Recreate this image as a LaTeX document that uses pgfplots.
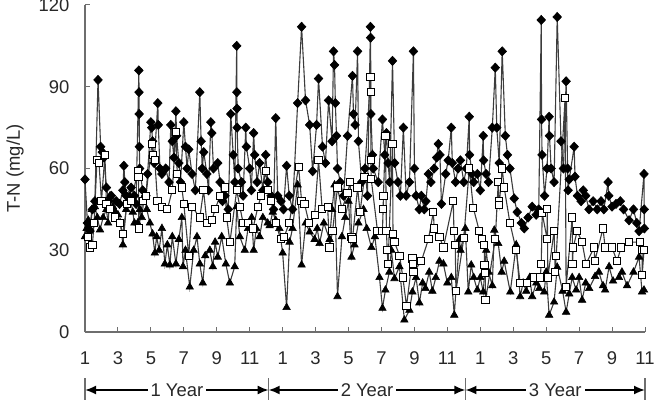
\documentclass[border=0pt]{standalone}
\usepackage{fontspec}
\setmainfont{Liberation Sans}
\usepackage{pgfplots}
\usepackage{pgfplotstable}
\pgfplotsset{compat=1.18}
\usetikzlibrary{arrows.meta}
\definecolor{axgray}{RGB}{110,110,110}
\definecolor{lngray}{RGB}{60,60,60}
\definecolor{txt}{RGB}{40,40,40}

\pgfplotstableread{
x y
0 56
0.15 40
0.3 37
0.45 45
0.6 48
0.79 92.5
0.95 68
1.05 66
1.15 64
1.3 53
1.45 48
1.6 50
1.9 48
2.1 47
2.3 52
2.36 61
2.42 55
2.5 50
2.8 53
3.0 50
3.1 47
3.27 96
3.28 88
3.29 80
3.3 68
3.32 60
3.5 52
3.7 50
3.8 58
4.0 77
4.05 75
4.1 70
4.2 62
4.42 84
4.45 76
4.55 60
4.67 58
4.9 60
5.1 55
5.21 76
5.3 70
5.4 64
5.52 81
5.56 72
5.7 62
5.8 55
6.0 77
6.1 68
6.2 60
6.3 67
6.5 58
6.7 52
6.97 88
7.05 70
7.12 60
7.21 66
7.4 58
7.5 52
7.64 77
7.7 73
7.8 60
8.06 62
8.2 55
8.35 48
8.5 50
8.7 45
8.85 80
9.0 65
9.1 55
9.21 105
9.22 88
9.23 82
9.24 75
9.3 60
9.5 55
9.6 50
9.76 75
9.8 68
10.0 60
10.1 52
10.24 73
10.3 65
10.45 55
10.6 62
10.8 52
10.97 65
11.1 55
11.3 50
11.45 45
11.58 78.5
11.7 50
11.9 48
12.05 45
12.24 61
12.4 50
12.6 45
12.91 84
13.15 112
13.39 85
13.64 76
13.82 59
14.06 76
14.18 93
14.42 68
14.6 62
14.79 85
15.0 70
15.09 103
15.15 98
15.2 84
15.27 72
15.33 60
15.5 55
15.7 50
15.94 72
16.24 94
16.3 80
16.4 76
16.55 103
16.6 70
16.8 55
17.0 60
17.15 50
17.33 112
17.34 108
17.36 80
17.45 65
17.5 60
17.8 55
18.06 78
18.2 65
18.3 73
18.4 62
18.5 55
18.67 99.5
18.8 62
19.0 55
19.15 50
19.33 75
19.5 50
19.7 55
19.94 103
20.0 60
20.1 50
20.3 45
20.42 50
20.6 45
20.7 48
20.85 58
21.0 55
21.2 60
21.35 64
21.45 69
21.55 65
21.64 47
21.9 58
22.05 63
22.24 75
22.3 62
22.5 55
22.65 60
22.79 63
23.0 55
23.15 60
23.33 79
23.35 65
23.5 58
23.6 55
23.82 58
24.0 52
24.18 72
24.2 63
24.35 58
24.5 55
24.73 75
24.91 97
25.0 75
25.15 62
25.33 103
25.52 72
25.65 65
25.8 60
26.06 49
26.24 44
26.5 40
26.67 38
26.9 42
27.15 46
27.39 43
27.55 45
27.70 114.5
27.72 78
27.75 65
27.9 50
28.05 60
28.18 79
28.2 72
28.3 60
28.48 55
28.67 115.6
28.9 70
29.05 60
29.21 92
29.3 60
29.33 52
29.4 56
29.70 68
29.75 57
29.9 50
30.12 48
30.25 52
30.4 50
30.6 45
30.85 48
31.1 45
31.33 48
31.5 45
31.76 55
31.8 50
32.0 46
32.24 47
32.5 48
32.7 45
33.03 41
33.3 45
33.5 40
33.64 37
33.94 58
33.95 45
33.96 38
}\tD

\pgfplotstableread{
x y
0.2 35
0.3 31
0.45 32
0.55 40
0.73 63
0.85 62
1.0 48
1.21 65
1.3 47
1.5 45
1.8 42
2.12 40
2.30 36
2.55 47
2.8 48
3.21 59
3.25 57
3.27 38
3.5 48
3.7 50
4.06 69
4.15 65
4.24 63
4.4 48
4.67 46
5.0 45
5.3 52
5.52 73.5
5.6 58
5.88 53
6.0 47
6.30 28
6.5 46
6.97 42
7.2 52
7.4 40
7.70 41
7.9 45
8.2 50
8.5 53
8.6 42
8.8 33
9.21 52
9.4 46
9.6 40
9.88 40
10.2 38
10.5 46
10.7 50
10.97 59
11.1 52
11.3 48
11.58 40
11.88 34
12.1 35
12.4 40
12.97 60.6
13.15 48
13.33 47
13.6 40
13.94 43
14.18 63
14.4 45
14.73 46
14.85 31
15.03 37
15.33 53
15.6 45
15.94 51
16.1 55
16.18 35
16.24 34
16.55 53
16.7 44
16.97 57
17.33 93.6
17.34 88
17.36 63
17.38 56
17.76 37
18.06 37
18.1 45
18.12 50
18.24 72
18.3 37
18.35 30
18.4 25
18.67 69
18.7 36
18.79 33
19.1 28
19.3 20
19.52 9.5
19.88 27
19.9 25
19.95 22
20.42 26
20.85 34
21.15 44
21.2 38
21.52 35
21.76 31
22.36 48
22.4 37
22.48 32
22.52 15
23.0 34.5
23.33 60
23.58 45.5
23.94 37
24.12 34
24.24 32
24.26 24.6
24.30 21.6
24.32 11.7
24.91 34
25.09 55
25.12 48
25.15 46.5
25.33 60
25.45 53
25.8 40
26.18 30
26.42 18
26.85 18
27.27 20
27.64 20
27.70 25
27.76 43.6
28.06 34
28.07 45
28.1 20
28.48 37
28.55 22
28.61 28
29.15 86
29.21 16.5
29.58 42
29.6 25
29.64 31
29.88 37
30.18 33
30.42 25
30.91 31
30.95 26
31.45 38
31.58 31
32.0 31
32.30 26
32.55 31
33.03 33
33.70 33
33.82 30
33.83 21
33.94 30
}\tS

\pgfplotstableread{
x y
0 35
0.1 38
0.2 41
0.3 38
0.42 45
0.6 46
0.75 42
0.91 37.5
1.1 42
1.3 45
1.4 40
1.52 50
1.7 46
1.85 44
2.0 43
2.15 40
2.30 32
2.5 45
2.6 48
2.73 50
2.9 44
3.0 40
3.2 40
3.33 45
3.45 42
3.6 50
3.75 45
3.94 40
4.1 36
4.24 29
4.35 35
4.5 30
4.67 38
4.85 25
5.0 32
5.15 24.6
5.3 35
5.52 25
5.7 34
5.88 42
5.95 24
6.1 30
6.36 16.5
6.6 30
6.8 35
6.97 25
7.15 18
7.3 28
7.58 30
7.76 24
7.9 33
8.06 27.5
8.3 35
8.55 25
8.79 18
9.09 24
9.21 46
9.4 35
9.70 30
9.9 38
10.12 42
10.24 30
10.4 38
10.6 35
10.8 42
11.09 40
11.21 39
11.4 44
11.58 41
11.8 38
12.0 29
12.24 9
12.42 33
12.6 38
12.91 54
13.15 24.6
13.4 40
13.64 36.7
13.94 34
14.1 38
14.24 32.5
14.5 40
14.85 34
15.0 45
15.15 54
15.33 13
15.6 35
15.8 42
16.0 48
16.18 27.5
16.36 32
16.6 40
16.91 45
17.1 38
17.39 31
17.6 35
17.88 20
18.06 8.7
18.24 15.4
18.48 22
18.6 30
18.79 19.6
19.09 24
19.39 4.4
19.70 8
19.88 14.7
20.1 20
20.30 10.7
20.5 18
20.67 16
20.9 22
21.09 15
21.3 20
21.52 26
21.76 25
22.0 18
22.24 20
22.42 6.2
22.73 34
22.8 30
23.09 38
23.27 14.7
23.45 24.6
23.6 20
23.82 15.4
24.0 20
24.18 14.7
24.36 30
24.5 22
24.73 17
24.85 37.4
25.09 32.5
25.3 22
25.45 26
25.82 14.7
26.18 32
26.42 13
26.6 18
26.79 15
27.0 20
27.15 13
27.4 18
27.58 16
27.88 14.7
28.0 22
28.18 6.2
28.48 11
28.67 23.8
29.0 15
29.21 7.3
29.4 14
29.58 20
29.82 15.4
30.0 20
30.18 11.7
30.4 18
30.61 16
30.97 20.4
31.2 22
31.45 17
31.58 15.4
31.82 24
32.06 18.7
32.42 20
32.6 22
32.91 17
33.3 22
33.64 27.5
33.82 14.7
33.94 15.4
}\tT

\begin{document}
\begin{tikzpicture}[font=\fontsize{18.5}{22}\selectfont]
\begin{axis}[
  scale only axis, width=560bp, height=327bp,
  xmin=0, xmax=34, ymin=0, ymax=120,
  axis x line*=bottom, axis y line*=left,
  xtick={0,2,...,34},
  xticklabels={1,3,5,7,9,11,1,3,5,7,9,11,1,3,5,7,9,11},
  ytick={0,30,60,90,120},
  tick align=inside, major tick length=5bp,
  axis line style={axgray, line width=1.2bp},
  tick style={axgray, line width=1bp},
  ticklabel style={text=txt},
  xticklabel style={yshift=-16bp},
  yticklabel style={xshift=-12bp},
  /pgf/number format/assume math mode=true,
  ylabel={T-N (mg/L)},
  ylabel style={text=txt, at={(axis description cs:-0.125,0.5)}, anchor=center},
  clip=false,
]
\addplot[draw=lngray, line width=1.1bp, mark=diamond*, mark size=4.6bp,
  mark options={solid, fill=black, draw=black, line width=0.6bp, xscale=1.25}] table[x=x,y=y] {\tD};
\addplot[draw=lngray, line width=1.1bp, mark=triangle*, mark size=4.3bp,
  mark options={solid, fill=black, draw=black, line width=0.6bp}] table[x=x,y=y] {\tT};
\addplot[draw=lngray, line width=1.1bp, mark=square*, mark size=3.6bp,
  mark options={solid, fill=white, draw=black, line width=1bp}] table[x=x,y=y] {\tS};

\coordinate (O) at (axis cs:0,0);
\coordinate (B1) at (axis cs:11.15,0);
\coordinate (B2) at (axis cs:23.1,0);
\coordinate (B3) at (axis cs:34,0);
\end{axis}
\foreach \c in {O,B1,B2,B3}{
  \draw[axgray, line width=1.2bp] ([yshift=-46bp]\c) -- ++(0,-22bp);
}
\draw[black, line width=1.8bp, {Latex[length=11bp,width=9bp]}-{Latex[length=11bp,width=9bp]}]
  ([yshift=-58bp]O) -- ([yshift=-58bp]B1)
  node[midway, fill=white, inner sep=3bp, text=txt] {1 Year};
\draw[black, line width=1.8bp, {Latex[length=11bp,width=9bp]}-{Latex[length=11bp,width=9bp]}]
  ([yshift=-58bp]B1) -- ([yshift=-58bp]B2)
  node[midway, fill=white, inner sep=3bp, text=txt] {2 Year};
\draw[black, line width=1.8bp, {Latex[length=11bp,width=9bp]}-{Latex[length=11bp,width=9bp]}]
  ([yshift=-58bp]B2) -- ([yshift=-58bp]B3)
  node[midway, fill=white, inner sep=3bp, text=txt] {3 Year};
\pgfresetboundingbox
\path[use as bounding box] ([xshift=-85bp,yshift=-68bp]O) rectangle ++(665bp,400bp);
\end{tikzpicture}
\end{document}
